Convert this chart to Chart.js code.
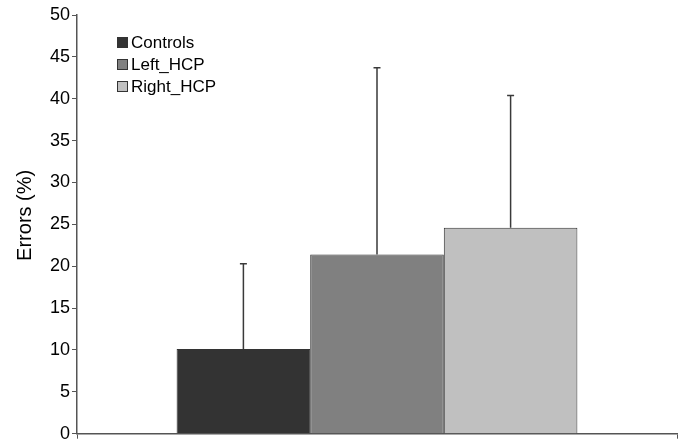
<!DOCTYPE html>
<html>
<head>
<meta charset="utf-8">
<script src="https://cdn.jsdelivr.net/npm/chart.js@4/dist/chart.umd.min.js"></script>
<style>
  html, body { margin: 0; padding: 0; background: #fff; }
  #wrap { width: 685px; height: 442px; }
</style>
</head>
<body>
<div id="wrap"><canvas id="errorsChart" width="685" height="442"></canvas></div>
<script>
// data
const groups = ["Controls", "Left_HCP", "Right_HCP"];
const meanErrors = [10.1, 21.4, 24.6];
const sdErrors = [10.2, 22.3, 15.8];
const fillColors = ["#333333", "#808080", "#c0c0c0"];
const yTicks = [0, 5, 10, 15, 20, 25, 30, 35, 40, 45, 50];
const yTitle = "Errors (%)";

const FONT = "Arial, 'Liberation Sans', Helvetica, sans-serif";

// upward-only error bars, positioned through the y scale
const errorBarPlugin = {
    id: "errorBars",
    afterDatasetsDraw(chart) {
        const ctx = chart.ctx;
        const yScale = chart.scales.y;
        ctx.save();
        ctx.strokeStyle = "#3a3a3a";
        ctx.lineWidth = 1.5;
        chart.data.datasets.forEach((ds, i) => {
            const bar = chart.getDatasetMeta(i).data[0];
            if (!bar) return;
            const yTop = yScale.getPixelForValue(ds.data[0] + sdErrors[i]);
            ctx.beginPath();
            ctx.moveTo(bar.x, bar.y);
            ctx.lineTo(bar.x, yTop);
            ctx.moveTo(bar.x - 3.5, yTop);
            ctx.lineTo(bar.x + 3.5, yTop);
            ctx.stroke();
        });
        ctx.restore();
    }
};

// legend inside the plot (top-left) and the rotated y title
const insideLegendPlugin = {
    id: "insideLegend",
    afterDraw(chart) {
        const ctx = chart.ctx;
        const area = chart.chartArea;
        const x0 = area.left + 40;
        const y0 = area.top + 27;
        ctx.save();
        ctx.font = "17px " + FONT;
        ctx.textBaseline = "middle";
        chart.data.datasets.forEach((ds, i) => {
            const cy = y0 + i * 22;
            ctx.fillStyle = ds.backgroundColor;
            ctx.fillRect(x0, cy - 5, 11, 11);
            ctx.strokeStyle = "#333";
            ctx.lineWidth = 1;
            ctx.strokeRect(x0 + 0.5, cy - 4.5, 10, 10);
            ctx.fillStyle = "#000";
            ctx.fillText(ds.label, x0 + 14, cy + 1);
        });

        // y axis title, a bit above the middle like the original
        ctx.translate(25, (area.top + area.bottom) / 2 - 9);
        ctx.rotate(-Math.PI / 2);
        ctx.font = "20px " + FONT;
        ctx.textAlign = "center";
        ctx.fillText(yTitle, 0, 0);
        ctx.restore();
    }
};

const ctx = document.getElementById("errorsChart").getContext("2d");

new Chart(ctx, {
    type: "bar",
    data: {
        labels: [""],
        datasets: groups.map((g, i) => ({
            label: g,
            data: [meanErrors[i]],
            backgroundColor: fillColors[i],
            borderColor: "#333333",
            borderWidth: 1,
            categoryPercentage: 0.668,
            barPercentage: 1.0
        }))
    },
    options: {
        responsive: false,
        animation: false,
        layout: { padding: { top: 15, right: 8, bottom: 0, left: 0 } },
        plugins: {
            legend: { display: false },
            tooltip: { enabled: false }
        },
        scales: {
            x: {
                grid: { display: true, drawOnChartArea: false, offset: true, tickLength: 5, color: "#555" },
                border: { display: true, color: "#555", width: 1.5 },
                ticks: { display: false },
                afterFit(scale) { scale.height = 8; }
            },
            y: {
                min: 0,
                max: 50,
                afterBuildTicks(scale) { scale.ticks = yTicks.map(v => ({ value: v })); },
                grid: { display: true, drawOnChartArea: false, tickLength: 5, color: "#555" },
                border: { display: true, color: "#555", width: 1.5 },
                ticks: { color: "#000", padding: 2, font: { family: FONT, size: 18, lineHeight: 0.7 } },
                afterFit(scale) { scale.width = 77; }
            }
        }
    },
    plugins: [errorBarPlugin, insideLegendPlugin]
});
</script>
</body>
</html>
